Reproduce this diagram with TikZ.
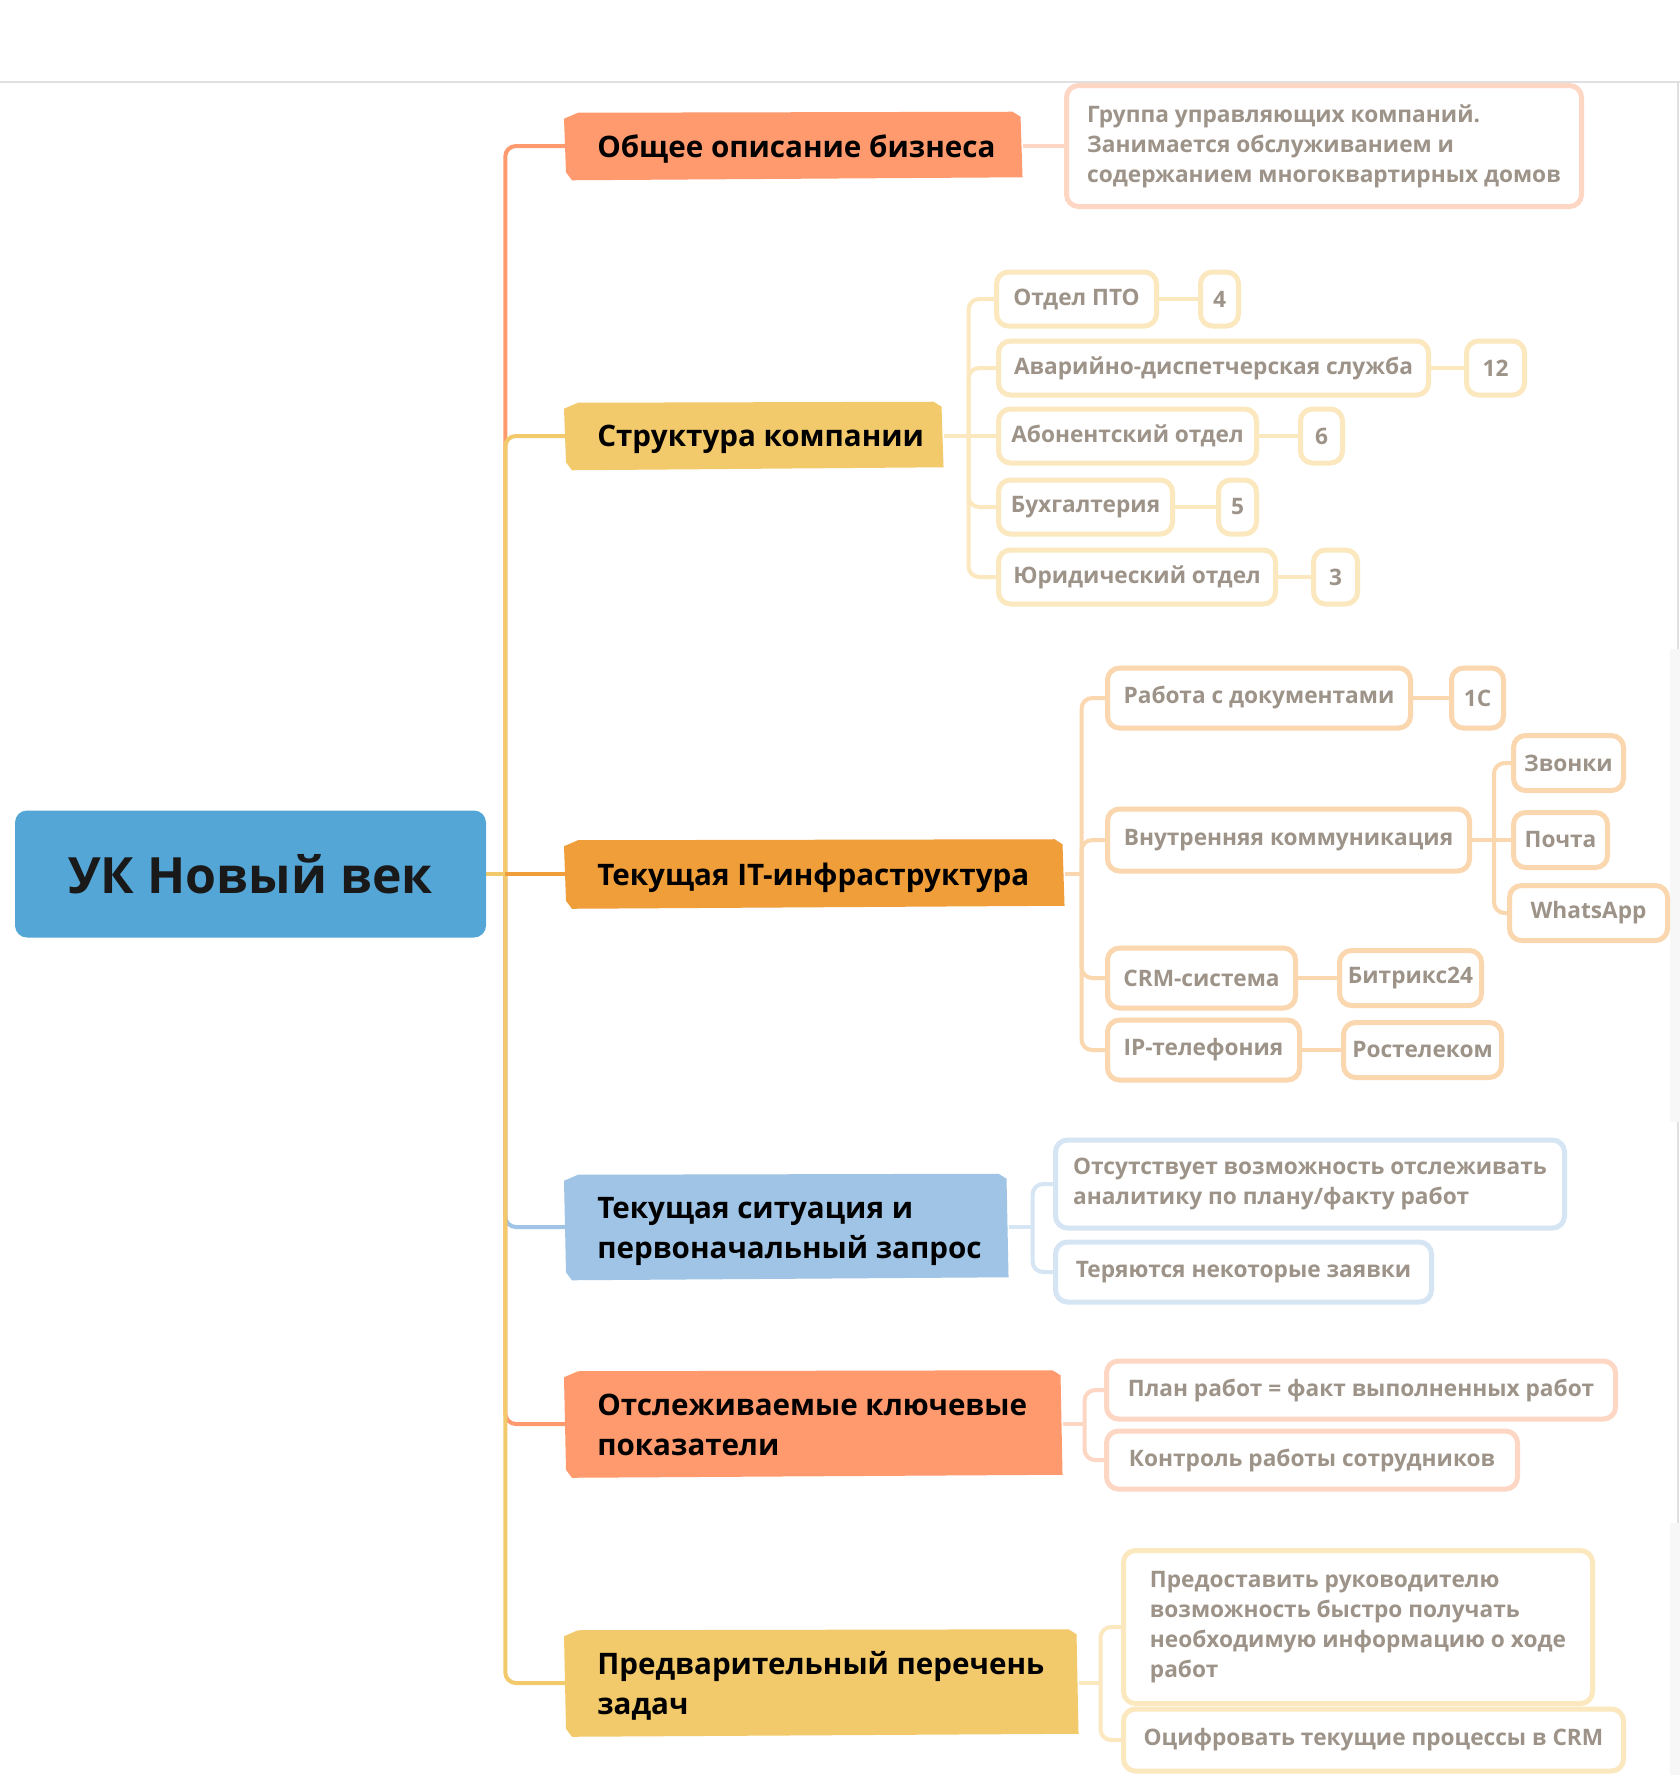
\documentclass[tikz,border=0pt]{standalone}
\usepackage{fontspec}
\setmainfont{Open Sans}
\usetikzlibrary{calc}
\definecolor{rootblue}{HTML}{54A6D7}
\definecolor{csalmon}{HTML}{FF9A6E}
\definecolor{cyellow}{HTML}{F3CA6B}
\definecolor{corange}{HTML}{EF9E3A}
\definecolor{cblue}{HTML}{9FC4E6}
\definecolor{psalmon}{HTML}{FDD6C4}
\definecolor{pyellow}{HTML}{FBE8BE}
\definecolor{porange}{HTML}{FAD7AE}
\definecolor{pblue}{HTML}{D6E5F4}
\definecolor{ctext}{HTML}{8C8174}
\definecolor{rule}{HTML}{E0E0E0}
\newcommand\lbox[2]{\raisebox{-2.5pt}[\height][\depth]{\makebox[#1][l]{#2}}}
\newcommand\twol[2]{\begin{tabular}{@{}l@{}}#1\\#2\end{tabular}}
\newcommand\topicfill[2]{%
  \fill[#2] ($(#1.north west)+(-2,6)$) -- ($(#1.north west)+(12,0)$) -- ($(#1.north east)+(-10,-1)$) -- ($(#1.north east)+(-2,4)$) -- ($(#1.south east)+(0,-2)$) -- ($(#1.south west)+(6,1)$) -- ($(#1.south west)+(0,-7)$) -- cycle;}
\pgfdeclarelayer{bg}
\pgfsetlayers{bg,main}
\tikzset{
  rootnode/.style={fill=rootblue, rounded corners=9pt, text=black!90, inner sep=0pt,
    font=\fontsize{37.5}{45}\selectfont\bfseries, minimum width=353.25pt, minimum height=95.25pt},
  topic/.style={anchor=west, inner xsep=23.25pt, inner ysep=0pt, text=black,
    font=\fontsize{22.2}{30}\selectfont\bfseries},
  sub/.style={draw=#1, fill=white, line width=3.75pt, rounded corners=9pt, anchor=west,
    inner sep=0pt, align=left, text=ctext, text opacity=0.85,
    font=\fontsize{17}{22.5}\selectfont\bfseries},
  conn/.style={draw=#1, line width=3pt},
  subconn/.style={draw=#1, line width=3pt},
}
\begin{document}
\begin{tikzpicture}[x=0.75pt,y=-0.75pt]
\useasboundingbox (0,0) rectangle (1680,1775);

% root
\node[rootnode] (root) at (250.5,874) {УК Новый век};

% main topics
\node[topic, minimum height=49.5pt] (b1) at (566,146) {\lbox{295.5pt}{Общее описание бизнеса}};
\node[topic, minimum height=49.5pt] (b2) at (566,436) {\lbox{236.25pt}{Структура компании}};
\node[topic, minimum height=50.25pt] (b3) at (566,874) {\lbox{327pt}{Текущая IT-инфраструктура}};
\node[topic, minimum height=78pt] (b4) at (566,1227) {\lbox{285pt}{\twol{Текущая ситуация и}{первоначальный запрос}}};
\node[topic, minimum height=78.75pt] (b5) at (566,1424) {\lbox{325.5pt}{\twol{Отслеживаемые ключевые}{показатели}}};
\node[topic, minimum height=78.75pt] (b6) at (566,1683) {\lbox{337.5pt}{\twol{Предварительный перечень}{задач}}};

% branch 1 child
\node[sub=psalmon, minimum width=386.25pt, minimum height=90.75pt] (c1) at (1064,146)
  {Группа управляющих компаний.\\Занимается обслуживанием и\\содержанием многоквартирных домов};

% branch 2 children
\node[sub=pyellow, minimum width=120pt, minimum height=40.5pt] (k21) at (994,299) {Отдел ПТО};
\node[sub=pyellow, minimum width=28.5pt, minimum height=40.5pt] (n21) at (1198,299) {4};
\node[sub=pyellow, minimum width=322.5pt, minimum height=40.5pt] (k22) at (996,368) {Аварийно-диспетчерская служба};
\node[sub=pyellow, minimum width=43.5pt, minimum height=40.5pt] (n22) at (1464,368) {12};
\node[sub=pyellow, minimum width=193.5pt, minimum height=40.5pt] (k23) at (996,436) {Абонентский отдел};
\node[sub=pyellow, minimum width=31.5pt, minimum height=40.5pt] (n23) at (1298,436) {6};
\node[sub=pyellow, minimum width=130.5pt, minimum height=40.5pt] (k24) at (996,507) {Бухгалтерия};
\node[sub=pyellow, minimum width=28.5pt, minimum height=40.5pt] (n24) at (1216,507) {5};
\node[sub=pyellow, minimum width=207.75pt, minimum height=40.5pt] (k25) at (996,577) {Юридический отдел};
\node[sub=pyellow, minimum width=33pt, minimum height=40.5pt] (n25) at (1311,577) {3};

% branch 3 children
\node[sub=porange, minimum width=227.25pt, minimum height=45pt] (k31) at (1105,698) {Работа с документами};
\node[sub=porange, minimum width=39pt, minimum height=45pt] (n31) at (1449,698) {1С};
\node[sub=porange, minimum width=271.5pt, minimum height=46.5pt] (k32) at (1105,840) {Внутренняя коммуникация};
\node[sub=porange, minimum width=82.5pt, minimum height=41.25pt] (k321) at (1511,763) {Звонки};
\node[sub=porange, minimum width=70.5pt, minimum height=41.25pt] (k322) at (1511,840) {Почта};
\node[sub=porange, minimum width=118.5pt, minimum height=41.25pt] (k323) at (1507,913) {WhatsApp};
\node[sub=porange, minimum width=141pt, minimum height=45pt] (k33) at (1105,978) {CRM-система};
\node[sub=porange, minimum width=106.5pt, minimum height=41.25pt] (n33) at (1337,978) {Битрикс24};
\node[sub=porange, minimum width=144pt, minimum height=45pt] (k34) at (1105,1050) {IP-телефония};
\node[sub=porange, minimum width=118.5pt, minimum height=41.25pt] (n34) at (1341,1050) {Ростелеком};

% branch 4 children
\node[sub=pblue, minimum width=381.75pt, minimum height=66pt] (k41) at (1053,1184)
  {Отсутствует возможность отслеживать\\аналитику по плану/факту работ};
\node[sub=pblue, minimum width=282pt, minimum height=45pt] (k42) at (1053,1272) {Теряются некоторые заявки};

% branch 5 children
\node[sub=psalmon, minimum width=381.75pt, minimum height=43.5pt] (k51) at (1104,1390) {План работ = факт выполненных работ};
\node[sub=psalmon, minimum width=308.25pt, minimum height=43.5pt] (k52) at (1104,1460) {Контроль работы сотрудников};

% branch 6 children
\node[sub=pyellow, minimum width=351.75pt, minimum height=114.75pt] (k61) at (1121,1627)
  {Предоставить руководителю\\возможность быстро получать\\необходимую информацию о ходе\\работ};
\node[sub=pyellow, minimum width=375pt, minimum height=46.5pt] (k62) at (1121,1740) {Оцифровать текущие процессы в CRM};

\begin{pgfonlayer}{bg}
  \fill[white] (0,0) rectangle (1680,1775);
  \draw[rule, line width=1.5pt] (0,82) -- (1680,82);
  \draw[rule, line width=1.5pt] (1678,82) -- (1678,649);
  \draw[rule, line width=1.5pt] (1678,1122) -- (1678,1523);
  \fill[black!3] (1670,649) rectangle (1680,1122);
  \fill[black!3] (1670,1523) rectangle (1680,1775);
  \coordinate (hub) at ($(root.east)+(19,0)$);
  % main connectors
  \draw[conn=csalmon] (root.east) -- (hub);
  \draw[conn=csalmon, rounded corners=8pt] (hub) |- (b1.west);
  \draw[conn=cyellow] (root.east) -- (hub);
  \draw[conn=cyellow, rounded corners=8pt] (hub) |- (b2.west);
  \draw[conn=corange] (root.east) -- (b3.west);
  \draw[conn=cblue] (root.east) -- (hub);
  \draw[conn=cblue, rounded corners=8pt] (hub) |- (b4.west);
  \draw[conn=csalmon] (root.east) -- (hub);
  \draw[conn=csalmon, rounded corners=8pt] (hub) |- (b5.west);
  \draw[conn=cyellow] (root.east) -- (hub);
  \draw[conn=cyellow, rounded corners=8pt] (hub) |- (b6.west);
  \draw[conn=corange] (hub) -- (b3.west);
  % topic shapes
  \topicfill{b1}{csalmon}
  \topicfill{b2}{cyellow}
  \topicfill{b3}{corange}
  \topicfill{b4}{cblue}
  \topicfill{b5}{csalmon}
  \topicfill{b6}{cyellow}
  % branch 1
  \draw[subconn=psalmon] (b1.east) -- (c1.west);
  % branch 2
  \coordinate (h2) at ($(b2.east)+(25,0)$);
  \draw[subconn=pyellow] (b2.east) -- (h2);
  \foreach \k in {k21,k22,k24,k25} {\draw[subconn=pyellow, rounded corners=8pt] (h2) |- (\k.west);}
  \draw[subconn=pyellow] (h2) -- (k23.west);
  \draw[subconn=pyellow] (k21.east) -- (n21.west);
  \draw[subconn=pyellow] (k22.east) -- (n22.west);
  \draw[subconn=pyellow] (k23.east) -- (n23.west);
  \draw[subconn=pyellow] (k24.east) -- (n24.west);
  \draw[subconn=pyellow] (k25.east) -- (n25.west);
  % branch 3
  \coordinate (h3) at ($(b3.east)+(17,0)$);
  \draw[subconn=porange] (b3.east) -- (h3);
  \foreach \k in {k31,k32,k33,k34} {\draw[subconn=porange, rounded corners=8pt] (h3) |- (\k.west);}
  \draw[subconn=porange] (k31.east) -- (n31.west);
  \coordinate (h32) at ($(k32.east)+(22,0)$);
  \draw[subconn=porange] (k32.east) -- (h32);
  \foreach \k in {k321,k323} {\draw[subconn=porange, rounded corners=8pt] (h32) |- (\k.west);}
  \draw[subconn=porange] (h32) -- (k322.west);
  \draw[subconn=porange] (k33.east) -- (n33.west);
  \draw[subconn=porange] (k34.east) -- (n34.west);
  % branch 4
  \coordinate (h4) at ($(b4.east)+(24,0)$);
  \draw[subconn=pblue] (b4.east) -- (h4);
  \foreach \k in {k41,k42} {\draw[subconn=pblue, rounded corners=8pt] (h4) |- (\k.west);}
  % branch 5
  \coordinate (h5) at ($(b5.east)+(22,0)$);
  \draw[subconn=psalmon] (b5.east) -- (h5);
  \foreach \k in {k51,k52} {\draw[subconn=psalmon, rounded corners=8pt] (h5) |- (\k.west);}
  % branch 6
  \coordinate (h6) at ($(b6.east)+(22,0)$);
  \draw[subconn=pyellow] (b6.east) -- (h6);
  \foreach \k in {k61,k62} {\draw[subconn=pyellow, rounded corners=8pt] (h6) |- (\k.west);}
\end{pgfonlayer}
\end{tikzpicture}
\end{document}
